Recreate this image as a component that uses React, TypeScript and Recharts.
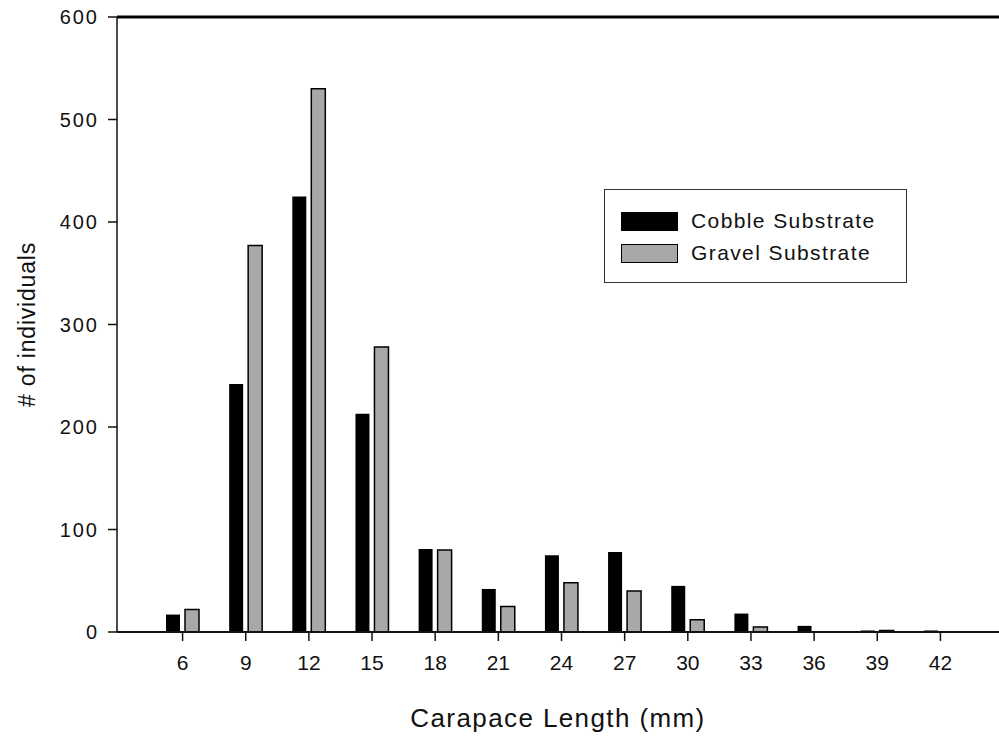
import { BarChart, Bar, XAxis, YAxis, ReferenceLine } from 'recharts'

const lengths = ['6', '9', '12', '15', '18', '21', '24', '27', '30', '33', '36', '39', '42']
const cobble = [17, 242, 425, 213, 81, 42, 75, 78, 45, 18, 6, 1.5, 1.5]
const gravel = [22, 377, 530, 278, 80, 25, 48, 40, 12, 5, 0, 1.5, 0]
const yTicks = [0, 100, 200, 300, 400, 500, 600]

const FONT = 'Liberation Sans, Arial, sans-serif'

const data = lengths.map((l, i) => ({ length: l, cobble: cobble[i], gravel: gravel[i] }))

function LegendBox() {
  const item = (fill: string, label: string) => (
    <div style={{ display: 'flex', alignItems: 'center', height: 32 }}>
      <div style={{ width: 55, height: 17, background: fill, border: '1.5px solid #000', marginRight: 13 }} />
      <span style={{ fontSize: 21, letterSpacing: 1.4, color: '#111' }}>{label}</span>
    </div>
  )
  return (
    <div style={{
      position: 'absolute', left: 604, top: 189,
      border: '1.5px solid #333', width: 303, height: 94, boxSizing: 'border-box',
      padding: '15px 0 0 16px', fontFamily: FONT, background: '#fff',
    }}>
      {item('#000', 'Cobble Substrate')}
      {item('#a8a8a8', 'Gravel Substrate')}
    </div>
  )
}

export default function App() {
  return (
    <div style={{ position: 'absolute', left: 0, top: 0, width: 999, height: 737, background: '#fff' }}>
      <BarChart
        width={999}
        height={737}
        data={data}
        margin={{ top: 17, right: 0, left: 0, bottom: 0 }}
        barSize={14}
        barGap={5}
      >
        <XAxis
          dataKey="length"
          height={105}
          padding={{ left: 34, right: 27 }}
          axisLine={{ stroke: '#111', strokeWidth: 2 }}
          tickLine={{ stroke: '#111', strokeWidth: 1.5 }}
          tickSize={9}
          tickMargin={14}
          tick={{ fill: '#111', fontSize: 21, fontFamily: FONT }}
          label={{ value: 'Carapace Length (mm)', position: 'insideBottom', offset: 10, fill: '#111', fontSize: 26, letterSpacing: 1.4, fontFamily: FONT }}
        />
        <YAxis
          width={117}
          domain={[0, 600]}
          ticks={yTicks}
          axisLine={{ stroke: '#111', strokeWidth: 1.5 }}
          tickLine={{ stroke: '#111', strokeWidth: 1.5 }}
          tickSize={9}
          tickMargin={9}
          tick={{ fill: '#111', fontSize: 20, letterSpacing: 2, fontFamily: FONT }}
          label={{ value: '# of individuals', angle: -90, position: 'center', dx: -32, fill: '#111', fontSize: 23, letterSpacing: 0.8, fontFamily: FONT }}
        />
        <ReferenceLine y={600} stroke="#000" strokeWidth={3} />
        <Bar dataKey="cobble" name="Cobble Substrate" fill="#000" isAnimationActive={false} />
        <Bar dataKey="gravel" name="Gravel Substrate" fill="#a8a8a8" stroke="#000" strokeWidth={1.5} isAnimationActive={false} />
      </BarChart>
      <LegendBox />
    </div>
  )
}
